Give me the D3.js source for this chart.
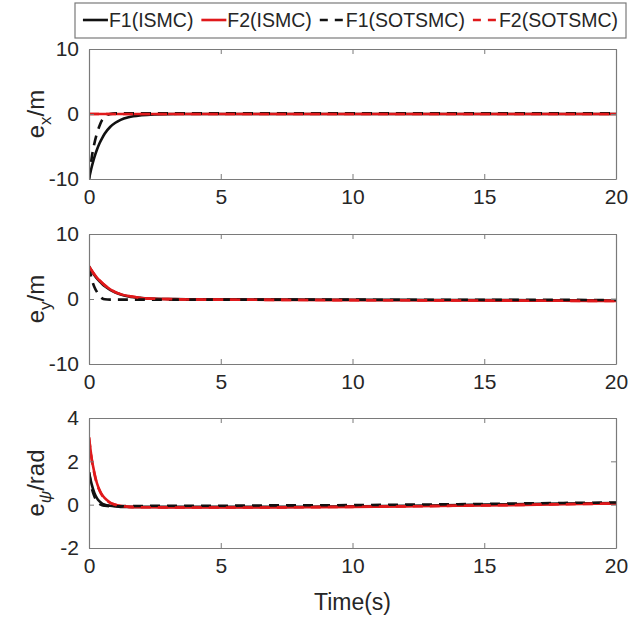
<!DOCTYPE html>
<html>
<head>
<meta charset="utf-8">
<script src="https://cdn.jsdelivr.net/npm/d3@7"></script>
<style>
body { margin: 0; background: #fff; }
</style>
</head>
<body>
<div id="chart"></div>
<script>
// time samples shared by all series
var tGrid = [0, 0.1, 0.2, 0.3, 0.4, 0.5, 0.6, 0.8, 1, 1.2, 1.5, 2, 2.5, 3, 4, 5, 6, 8, 10, 12, 14, 16, 18, 20];

// e_x panel
var exF1I = [-10, -8.2, -6.7, -5.5, -4.5, -3.7, -3.0, -2.0, -1.35, -0.9, -0.5, -0.2, -0.07, -0.02, 0, 0, 0, 0, 0, 0, 0, 0, 0, 0];
var exF2I = [0, 0, 0, 0, 0, 0, 0, 0, 0, 0, 0, 0, 0, 0, 0, 0, 0, 0, 0, 0, 0, 0, 0, 0];
var exF1S = [-10, -6.8, -4.6, -3.0, -1.8, -0.9, -0.4, 0, 0.1, 0.1, 0.1, 0.1, 0.1, 0.1, 0.1, 0.1, 0.1, 0.1, 0.1, 0.1, 0.1, 0.1, 0.1, 0.1];
var exF2S = [0, 0, 0, 0, 0, 0, 0, 0, 0, 0, 0, 0, 0, 0, 0, 0, 0, 0, 0, 0, 0, 0, 0, 0];

// e_y panel
var eyF1I = [5, 4.3, 3.7, 3.15, 2.7, 2.3, 1.95, 1.4, 1.0, 0.7, 0.4, 0.15, 0.03, 0, -0.05, -0.05, -0.08, -0.1, -0.12, -0.14, -0.16, -0.18, -0.2, -0.22];
var eyF2I = [5, 4.4, 3.8, 3.3, 2.85, 2.45, 2.1, 1.5, 1.05, 0.75, 0.45, 0.15, 0.03, -0.02, -0.08, -0.1, -0.12, -0.15, -0.18, -0.2, -0.22, -0.25, -0.28, -0.3];
var eyF1S = [5, 3.1, 1.9, 1.1, 0.5, 0.1, -0.05, -0.1, -0.1, -0.1, -0.1, -0.1, -0.1, -0.1, -0.1, -0.1, -0.1, -0.1, -0.1, -0.12, -0.12, -0.14, -0.14, -0.15];
var eyF2S = [5, 4.4, 3.8, 3.3, 2.85, 2.45, 2.1, 1.5, 1.05, 0.75, 0.45, 0.15, 0.03, -0.02, -0.08, -0.1, -0.12, -0.15, -0.18, -0.2, -0.22, -0.25, -0.28, -0.3];

// e_psi panel
var epF1I = [1.5, 0.95, 0.55, 0.3, 0.15, 0.05, 0, -0.05, -0.08, -0.1, -0.1, -0.1, -0.1, -0.1, -0.1, -0.1, -0.1, -0.1, -0.08, -0.05, -0.02, 0.02, 0.05, 0.08];
var epF2I = [3.1, 2.15, 1.5, 1.0, 0.68, 0.45, 0.3, 0.1, 0, -0.05, -0.1, -0.12, -0.12, -0.13, -0.13, -0.13, -0.13, -0.12, -0.1, -0.08, -0.05, -0.02, 0.02, 0.05];
var epF1S = [1.5, 0.8, 0.4, 0.15, 0.03, -0.03, -0.05, -0.07, -0.07, -0.07, -0.06, -0.06, -0.05, -0.05, -0.05, -0.05, -0.04, -0.03, -0.02, 0, 0.02, 0.05, 0.08, 0.1];
var epF2S = [3.1, 2.1, 1.45, 0.95, 0.65, 0.42, 0.28, 0.08, 0, -0.05, -0.1, -0.12, -0.12, -0.13, -0.13, -0.13, -0.13, -0.12, -0.1, -0.08, -0.05, -0.02, 0.02, 0.05];

var xTicks = [0, 5, 10, 15, 20];
var legendNames = ["F1(ISMC)", "F2(ISMC)", "F1(SOTSMC)", "F2(SOTSMC)"];

var panels = [
    { label: "x", unit: "/m", domain: [-10, 10], ticks: [-10, 0, 10], series: [exF1I, exF2I, exF1S, exF2S] },
    { label: "y", unit: "/m", domain: [-10, 10], ticks: [-10, 0, 10], series: [eyF1I, eyF2I, eyF1S, eyF2S] },
    { label: "\u03C8", unit: "/rad", domain: [-2, 4], ticks: [-2, 0, 2, 4], series: [epF1I, epF2I, epF1S, epF2S] }
];

var styles = [
    { color: "#111111", dash: null },
    { color: "#e0191b", dash: null },
    { color: "#111111", dash: "10,7" },
    { color: "#e0191b", dash: "10,7" }
];

var W = 629, H = 617;
var left = 89, right = 616;
var tops = [49, 234, 418], ph = 130;
var font = "Liberation Sans, Arial, sans-serif";
var axisColor = "#7a7a7a", textColor = "#262626";

var svg = d3.select("#chart").append("svg")
    .attr("width", W)
    .attr("height", H);

var x = d3.scaleLinear().domain([0, 20]).range([left, right]);
var fmt = function(d) { return String(d); };

panels.forEach(function(p, i) {
    var top = tops[i], bottom = top + ph;
    var y = d3.scaleLinear().domain(p.domain).range([bottom, top]);
    var g = svg.append("g");

    g.append("clipPath").attr("id", "clip" + i)
        .append("rect").attr("x", left).attr("y", top - 2)
        .attr("width", right - left).attr("height", ph + 4);

    var line = d3.line()
        .x(function(d, k) { return x(tGrid[k]); })
        .y(function(d) { return y(d); })
        .curve(d3.curveMonotoneX);

    p.series.forEach(function(s, k) {
        g.append("path")
            .attr("clip-path", "url(#clip" + i + ")")
            .attr("d", line(s))
            .attr("fill", "none")
            .attr("stroke", styles[k].color)
            .attr("stroke-width", 2.6)
            .attr("stroke-dasharray", styles[k].dash);
    });

    // box axes with inward ticks
    var ax = [
        d3.axisBottom(x).tickValues(xTicks).tickSizeInner(-5).tickSizeOuter(0).tickPadding(10).tickFormat(fmt),
        d3.axisTop(x).tickValues(xTicks).tickSizeInner(-5).tickSizeOuter(0).tickFormat(""),
        d3.axisLeft(y).tickValues(p.ticks).tickSizeInner(-5).tickSizeOuter(0).tickPadding(10).tickFormat(fmt),
        d3.axisRight(y).tickValues(p.ticks).tickSizeInner(-5).tickSizeOuter(0).tickFormat("")
    ];
    var pos = ["translate(0," + bottom + ")", "translate(0," + top + ")",
               "translate(" + left + ",0)", "translate(" + right + ",0)"];
    ax.forEach(function(a, k) {
        var ag = g.append("g").attr("transform", pos[k]).call(a);
        ag.select(".domain").attr("stroke", axisColor).attr("stroke-width", 1.2);
        ag.selectAll(".tick line").attr("stroke", axisColor).attr("stroke-width", 1);
        ag.selectAll("text").attr("font-family", font).attr("font-size", 21).attr("fill", textColor);
    });

    // y label
    var lab = g.append("text")
        .attr("transform", "translate(44," + (top + ph / 2) + ") rotate(-90)")
        .attr("text-anchor", "middle")
        .attr("font-family", font)
        .attr("font-size", 24)
        .attr("fill", textColor);
    lab.append("tspan").text("e");
    lab.append("tspan").attr("font-size", 17).attr("dy", 7)
        .attr("font-style", p.label === "\u03C8" ? "italic" : null).text(p.label);
    lab.append("tspan").attr("dy", -7).text(p.unit);
});

svg.append("text")
    .attr("x", (left + right) / 2)
    .attr("y", 610)
    .attr("text-anchor", "middle")
    .attr("font-family", font)
    .attr("font-size", 23)
    .attr("fill", textColor)
    .text("Time(s)");

// legend, stretched to fit between lx and lr
var lg = svg.append("g");
var lx = 75, lr = 626, ly = 20, sample = 25;
lg.append("rect")
    .attr("x", lx).attr("y", 3).attr("width", lr - lx).attr("height", 35)
    .attr("fill", "#fff").attr("stroke", axisColor).attr("stroke-width", 1.2);
var texts = legendNames.map(function(n) {
    return lg.append("text")
        .attr("y", ly + 7)
        .attr("font-family", font).attr("font-size", 19.5).attr("fill", textColor)
        .text(n);
});
var used = d3.sum(texts, function(t) { return t.node().getComputedTextLength(); }) + 4 * (sample + 1);
var gap = (lr - lx - used) / 5;
var cursor = lx + gap;
legendNames.forEach(function(n, k) {
    lg.append("line")
        .attr("x1", cursor).attr("x2", cursor + sample)
        .attr("y1", ly).attr("y2", ly)
        .attr("stroke", styles[k].color).attr("stroke-width", 2.6)
        .attr("stroke-dasharray", styles[k].dash ? "8,7" : null);
    texts[k].attr("x", cursor + sample + 1);
    cursor += sample + 1 + texts[k].node().getComputedTextLength() + gap;
});
</script>
</body>
</html>
